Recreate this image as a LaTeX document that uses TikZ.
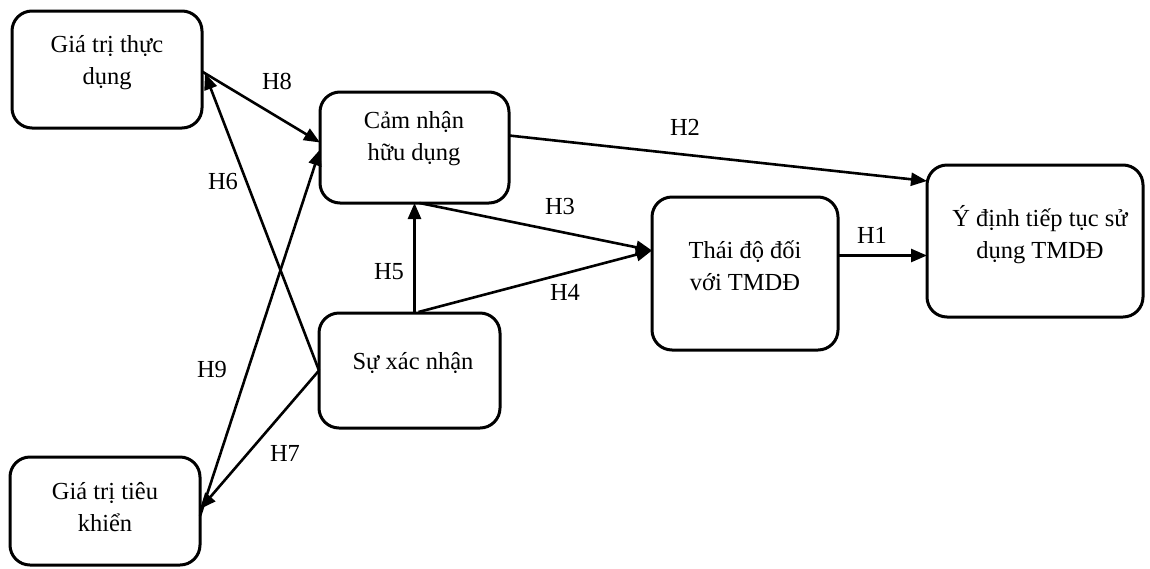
\documentclass[tikz,border=0pt]{standalone}
\usepackage{fontspec}
\setmainfont{Liberation Serif}
\usetikzlibrary{arrows.meta,calc}
\begin{document}
\begin{tikzpicture}[x=1pt,y=-1pt,
  box/.style={draw,line width=3pt,rounded corners=20pt,inner sep=0pt,outer sep=0pt,anchor=north west},
  txt/.style={align=center,inner sep=0pt,font=\fontsize{24.5}{32}\selectfont},
  lbl/.style={inner sep=0pt,font=\fontsize{24.5}{28}\selectfont},
  conn/.style={line width=2.6pt,-{Triangle[length=16pt,width=13pt]}}
]
\useasboundingbox (0,0) rectangle (1150,568);

% boxes
\node[box,minimum width=190pt,minimum height=117pt] (A) at (12,11) {};
\node[box,minimum width=189pt,minimum height=111pt] (B) at (320,92) {};
\node[box,minimum width=186pt,minimum height=153pt] (C) at (652,197) {};
\node[box,minimum width=216pt,minimum height=152pt] (D) at (927,165) {};
\node[box,minimum width=181pt,minimum height=115pt] (E) at (319,313) {};
\node[box,minimum width=190pt,minimum height=108pt] (F) at (10,457) {};

% box texts
\node[txt] (tA) at (107,63) {Giá trị thực\\dụng};
\node[txt] (tB) at (414,139) {Cảm nhận\\hữu dụng};
\node[txt] (tC) at (745,266) {Thái độ đối\\với TMDĐ};
\node[txt] (tD) at (1040,235) {Ý định tiếp tục sử\\dụng TMDĐ};
\node[txt] (tE) at (413,363) {Sự xác nhận};
\node[txt] (tF) at (105,507) {Giá trị tiêu\\khiển};

% connection points
\coordinate (Bin1) at ([yshift=5pt]B.west);
\coordinate (Bin2) at ([yshift=-2pt]B.west);
\coordinate (Cin) at ([yshift=23pt]C.west);
\coordinate (Etop) at (B.south |- E.north);
\coordinate (C1) at ([yshift=18pt]C.east);

% connectors
\draw[conn] ([yshift=-2pt]A.east) -- (Bin1);
\draw[conn] (E.west) -- ([yshift=-4pt,xshift=3pt]A.east);
\draw[conn] ([yshift=-5pt]F.east) -- (Bin2);
\draw[conn] (E.west) -- ([yshift=2pt]F.east);
\draw[conn] (Etop) -- (B.south);
\draw[conn] ([xshift=4pt,yshift=1pt]Etop) -- (Cin);
\draw[conn] ([xshift=5pt]B.south) -- (Cin);
\draw[conn] ([yshift=12pt]B.east) -- ([yshift=-16pt]D.north west);
\draw[conn] (C1) -- (C1 -| D.west);

% labels
\node[lbl] (h8) at (277,81) {H8};
\node[lbl] (h2) at (685,127) {H2};
\node[lbl] (h6) at (223,182) {H6};
\node[lbl] (h3) at (560,207) {H3};
\node[lbl] (h5) at (389,272) {H5};
\node[lbl] (h4) at (565,292) {H4};
\node[lbl] (h1) at (872,235) {H1};
\node[lbl] (h9) at (212,370) {H9};
\node[lbl] (h7) at (285,453) {H7};
\end{tikzpicture}
\end{document}
